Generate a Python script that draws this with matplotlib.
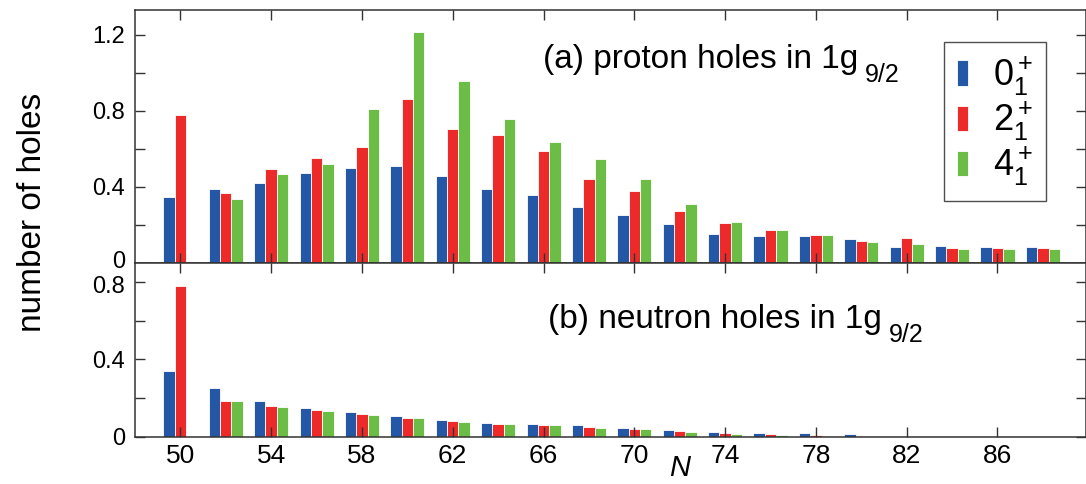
import matplotlib
matplotlib.use('Agg')
import matplotlib.pyplot as plt
import matplotlib.transforms as mtransforms
import numpy as np

plt.rcParams['font.family'] = ['Liberation Sans', 'DejaVu Sans']
plt.rcParams['mathtext.fontset'] = 'custom'
plt.rcParams['mathtext.rm'] = 'Liberation Sans'
plt.rcParams['mathtext.it'] = 'Liberation Sans:italic'

# neutron number N, one group of bars per even N
N = np.arange(50, 90, 2)

# (a) proton holes in 1g9/2
prot_0 = [0.346, 0.390, 0.418, 0.474, 0.499, 0.508, 0.455, 0.390, 0.355, 0.295,
          0.252, 0.203, 0.152, 0.141, 0.138, 0.123, 0.085, 0.088, 0.085, 0.081]
prot_2 = [0.776, 0.367, 0.494, 0.550, 0.607, 0.864, 0.704, 0.672, 0.587, 0.443,
          0.376, 0.270, 0.208, 0.173, 0.148, 0.116, 0.129, 0.079, 0.078, 0.078]
prot_4 = [0.0, 0.335, 0.466, 0.522, 0.810, 1.212, 0.958, 0.757, 0.635, 0.547,
          0.443, 0.310, 0.212, 0.173, 0.145, 0.111, 0.099, 0.074, 0.072, 0.072]

# (b) neutron holes in 1g9/2
neut_0 = [0.341, 0.251, 0.185, 0.151, 0.128, 0.106, 0.087, 0.073, 0.066, 0.059,
          0.045, 0.036, 0.022, 0.021, 0.019, 0.012, 0.0, 0.0, 0.0, 0.0]
neut_2 = [0.781, 0.187, 0.159, 0.137, 0.118, 0.099, 0.081, 0.068, 0.062, 0.048,
          0.042, 0.031, 0.017, 0.014, 0.009, 0.003, 0.0, 0.0, 0.0, 0.0]
neut_4 = [0.0, 0.184, 0.156, 0.132, 0.113, 0.095, 0.078, 0.066, 0.059, 0.047,
          0.038, 0.026, 0.014, 0.009, 0.005, 0.002, 0.0, 0.0, 0.0, 0.0]

labels = [r'$0^+_1$', r'$2^+_1$', r'$4^+_1$']
colors = ['#2457a6', '#ec2a2a', '#6cbd45']

fig = plt.figure(figsize=(10.86, 4.84), dpi=100)
ax1 = fig.add_axes([0.1243, 0.4572, 0.8757, 0.5221])
ax2 = fig.add_axes([0.1243, 0.0977, 0.8757, 0.3595])

w = 0.5
for ax, data in [(ax1, [prot_0, prot_2, prot_4]), (ax2, [neut_0, neut_2, neut_4])]:
    for k, (vals, c, lab) in enumerate(zip(data, colors, labels)):
        ax.bar(N + (k - 1) * w, vals, width=w, color=c, edgecolor='white',
               linewidth=0.6, label=lab)
    ax.set_xlim(48.0, 89.9)
    ax.set_xticks(np.arange(50, 89, 4))
    ax.tick_params(direction='in', top=True, right=True, length=7,
                   width=1, color='#333333', pad=5)
    ax.tick_params(axis='x', labelsize=19)
    ax.tick_params(axis='y', labelsize=17, pad=7)
    for s in ax.spines.values():
        s.set_color('#333333')
        s.set_linewidth(1.1)

ax1.set_ylim(0, 1.33)
ax1.set_yticks(np.arange(0, 1.21, 0.2))
ax1.set_yticklabels(['0', '', '0.4', '', '0.8', '', '1.2'])
ax1.tick_params(labelbottom=False)

ax2.set_ylim(0, 0.9)
ax2.set_yticks(np.arange(0, 0.81, 0.2))
ax2.set_yticklabels(['0', '', '0.4', '', '0.8'])

# the top "0" and bottom "0.8" sit right on top of each other, pull them apart a bit
up = mtransforms.ScaledTranslation(0, 2 / 72, fig.dpi_scale_trans)
down = mtransforms.ScaledTranslation(0, -2 / 72, fig.dpi_scale_trans)
lab0 = ax1.get_yticklabels()[0]
lab0.set_transform(lab0.get_transform() + up)
lab8 = ax2.get_yticklabels()[-1]
lab8.set_transform(lab8.get_transform() + down)

# panel titles, with the 9/2 subscript hung off the end of each title
for ax, txt, x, y in [(ax1, '(a) proton holes in 1g', 0.429, 0.770),
                      (ax2, '(b) neutron holes in 1g', 0.434, 0.625)]:
    t = ax.text(x, y, txt, transform=ax.transAxes, fontsize=24,
                ha='left', va='baseline')
    ax.annotate('9/2', xy=(1, 0), xycoords=t, xytext=(5, -5),
                textcoords='offset points', fontsize=18, ha='left', va='baseline')

leg = ax1.legend(loc='upper left', bbox_to_anchor=(0.851, 0.873), borderaxespad=0,
                 fontsize=26, handlelength=0.3, handleheight=0.7, handletextpad=0.7,
                 labelspacing=0.05, fancybox=False, frameon=True, borderpad=0.35)
leg.get_frame().set_edgecolor('#222222')
leg.get_frame().set_linewidth(1.0)

fig.text(0.030, 0.562, 'number of holes', rotation=90, fontsize=24,
         ha='center', va='center')
fig.text(0.626, 0.034, 'N', fontsize=21, style='italic', ha='center', va='center')

fig.savefig('out.png', dpi=100)
